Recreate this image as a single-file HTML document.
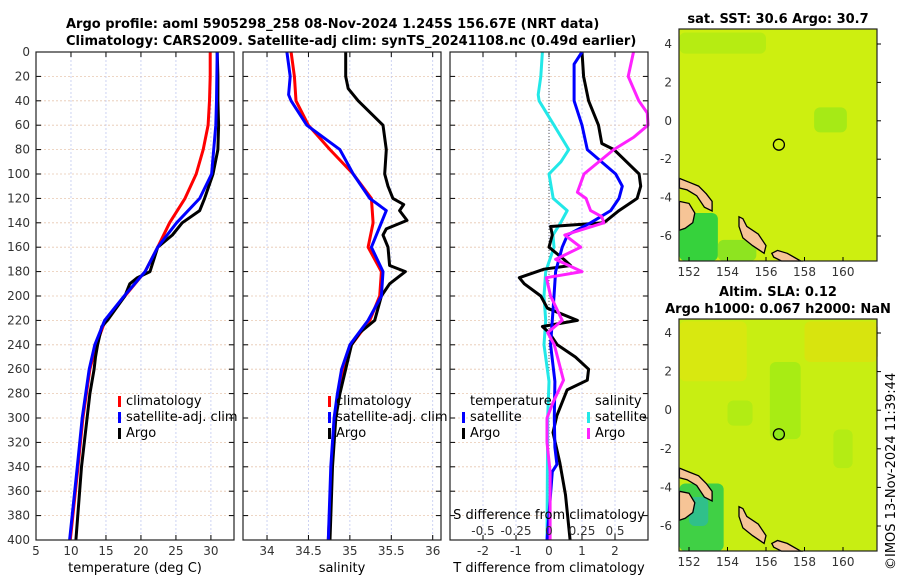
<!DOCTYPE html>
<html><head><meta charset="utf-8">
<style>
body{margin:0;background:#fff;}
svg{display:block;font-family:"DejaVu Sans","Liberation Sans",sans-serif;}
.tk{font-size:12px;fill:#333;}
.ttl{font-size:13px;font-weight:bold;fill:#000;}
.lg{font-size:13px;fill:#000;}
</style></head>
<body>
<svg id="chart" width="900" height="580" viewBox="0 0 900 580">
<text class="ttl" x="66" y="28">Argo profile: aoml 5905298_258 08-Nov-2024 1.245S 156.67E (NRT data)</text>
<text class="ttl" x="66" y="45">Climatology: CARS2009. Satellite-adj clim: synTS_20241108.nc (0.49d earlier)</text>
<g id="panels"></g>
</svg>
<script>
// ---- data ----
const tClimDepth=[0,20,40,60,80,100,120,140,160,180,200,220,240,260,280,300,340,400];
const tClimVal=[29.9,29.9,29.8,29.6,28.9,27.9,26.3,24.1,22.4,20.6,17.7,14.9,13.6,12.7,12.2,11.7,11.0,9.9];
const tSatDepth=[0,40,60,80,100,120,140,160,180,200,220,240,260,280,300,340,400];
const tSatVal=[30.9,30.8,30.7,30.4,30.1,28.4,25.1,22.4,20.6,17.6,14.8,13.4,12.6,12.1,11.6,10.9,9.8];
const tArgoDepth=[0,20,40,60,80,100,120,130,140,150,160,180,185,190,200,220,225,240,250,260,280,300,340,400];
const tArgoVal=[30.9,31.0,31.0,31.1,31.0,30.3,29.1,28.4,25.9,24.5,22.4,21.3,19.5,18.4,17.7,15.2,14.4,13.8,13.5,13.3,12.7,12.3,11.5,10.7];
const sClimDepth=[0,20,40,60,80,100,120,140,160,180,200,220,240,260,280,300,340,400];
const sClimVal=[34.29,34.33,34.35,34.50,34.76,35.04,35.26,35.28,35.22,35.38,35.36,35.24,35.02,34.92,34.86,34.82,34.78,34.74];
const sSatDepth=[0,20,35,40,60,80,90,100,120,130,160,180,200,220,240,260,280,300,340,400];
const sSatVal=[34.24,34.28,34.26,34.29,34.48,34.88,34.96,35.04,35.24,35.44,35.26,35.40,35.38,35.22,35.00,34.90,34.85,34.81,34.77,34.74];
const sArgoDepth=[0,20,30,40,60,80,100,110,120,125,130,138,145,150,160,175,180,190,200,220,230,240,260,280,300,340,400];
const sArgoVal=[34.95,34.95,34.98,35.10,35.40,35.44,35.42,35.46,35.52,35.65,35.60,35.69,35.44,35.40,35.46,35.48,35.67,35.48,35.38,35.30,35.12,35.02,34.95,34.88,34.83,34.79,34.76];
const dTSatDepth=[0,10,40,60,80,100,110,120,130,140,150,160,180,200,240,270,300,324,338,344,400];
const dTSatVal=[1.0,0.76,0.76,1.0,1.16,2.02,2.22,2.12,1.87,1.26,0.56,0.4,0.2,0.15,0.05,0.18,0.16,0.18,0.24,0.1,-0.06];
const dTArgoDepth=[0,20,40,60,75,80,100,110,120,130,140,143,150,160,170,175,178,185,190,200,210,220,225,230,240,250,260,269,277,298,312,337,363,400];
const dTArgoVal=[1.0,1.05,1.2,1.5,1.6,1.97,2.73,2.78,2.67,2.12,1.66,0.05,0.1,0.0,0.45,0.65,-0.15,-0.9,-0.75,-0.25,-0.05,0.86,-0.2,0.0,0.25,0.8,1.2,1.16,0.55,0.24,0.12,0.33,0.5,0.64];
const dSSatDepth=[0,20,35,40,60,80,90,100,120,130,140,150,160,180,200,220,240,270,300,400];
const dSSatVal=[-0.05,-0.062,-0.082,-0.075,0.038,0.15,0.09,0.0,0.032,0.138,0.088,0.03,0.038,-0.025,-0.038,-0.025,-0.038,0.0,-0.01,-0.015];
const dSArgoDepth=[0,20,40,50,60,70,80,100,115,120,130,135,140,150,160,170,180,185,200,220,230,240,269,287,300,320,344,370,400];
const dSArgoVal=[0.64,0.6,0.68,0.745,0.75,0.64,0.49,0.265,0.215,0.28,0.315,0.4,0.415,0.12,0.24,0.05,0.25,-0.02,0.012,0.1,-0.01,0.04,0.11,0.032,-0.015,-0.015,0.008,0.008,0.008];
const tTicks=[5,10,15,20,25,30];
const sTicks=[34,34.5,35,35.5,36];
const sTickLabels=["34","34.5","35","35.5","36"];
const dTTicks=[-2,-1,0,1,2];
const dSTicks=[-0.5,-0.25,0,0.25,0.5];
const dSTickLabels=["-0.5","-0.25","0","0.25","0.5"];
const depthTicks=[0,20,40,60,80,100,120,140,160,180,200,220,240,260,280,300,320,340,360,380,400];

const NS='http://www.w3.org/2000/svg';
const root=document.getElementById('panels');
function mk(tag,attrs,parent){const e=document.createElementNS(NS,tag);for(const k in attrs)e.setAttribute(k,attrs[k]);(parent||root).appendChild(e);return e;}
const yTop=52,yBot=540;
function yScale(d){return yTop+(d/400)*(yBot-yTop);}

function panel(x0,x1,dmin,dmax,ticks,labels,name,xlabel,showDepth){
  const g=mk('g',{});
  
  
  const xs=v=>x0+(v-dmin)/(dmax-dmin)*(x1-x0);
  depthTicks.forEach(d=>{const y=yScale(d);
    if(d>0&&d<400){const l=mk('line',{x1:x0,x2:x1,y1:y,y2:y,stroke:'#e8c8b0','stroke-width':0.8,'stroke-dasharray':'2,2'},g);
      }
    const t1=mk('line',{x1:x0,x2:x0+5,y1:y,y2:y,stroke:'#000'},g);
    
    const t2=mk('line',{x1:x1-5,x2:x1,y1:y,y2:y,stroke:'#000'},g);
    
    if(showDepth){const t=mk('text',{x:x0-6,y:y+4,'text-anchor':'end',class:'tk'},g);t.textContent=d;
      }
  });
  ticks.forEach((v,i)=>{const x=xs(v);
    const l=mk('line',{x1:x,x2:x,y1:yTop,y2:yBot,stroke:'#c0c8f0',"stroke-width":0.8,'stroke-dasharray':'2,2'},g);
    
    const a=mk('line',{x1:x,x2:x,y1:yTop,y2:yTop+5,stroke:'#000'},g);
    
    const b=mk('line',{x1:x,x2:x,y1:yBot-5,y2:yBot,stroke:'#000'},g);
    
    if(labels){const t=mk('text',{x:x,y:yBot+15,'text-anchor':'middle',class:'tk'},g);t.textContent=labels[i];
      }
  });
  if(xlabel){const t=mk('text',{x:(x0+x1)/2,y:yBot+32,'text-anchor':'middle',class:'lg'},g);t.textContent=xlabel;
    }
  return {g,xs};
}
function series(p,depths,vals,color,name,w){
  const pts=depths.map((d,i)=>p.xs(vals[i]).toFixed(1)+','+yScale(d).toFixed(1)).join(' ');
  const l=mk('polyline',{points:pts,fill:'none',stroke:color,'stroke-width':w||3,'stroke-linejoin':'round'},p.g);
  
}
function frame(p,x0,x1){const r=mk('rect',{x:x0,y:yTop,width:x1-x0,height:yBot-yTop,fill:'none',stroke:'#222','stroke-width':1.2},p.g);
  }
function legend(g,x,y,items){items.forEach((it,i)=>{
  const r=mk('rect',{x:x,y:y+i*16-9,width:3,height:11,fill:it[1]},g);
  
  const t=mk('text',{x:x+8,y:y+i*16,class:'lg'},g);t.textContent=it[0];
  });}

// Panel 1 temperature
const p1=panel(36,234,5,33.3,tTicks,tTicks.map(String),'temperature-panel','temperature (deg C)',true);
series(p1,tClimDepth,tClimVal,'#ff0000','temperature-climatology-line');
series(p1,tArgoDepth,tArgoVal,'#000','temperature-argo-line');
series(p1,tSatDepth,tSatVal,'#0000ff','temperature-satellite-line');
frame(p1,36,234);
legend(p1.g,118,405,[['climatology','#ff0000'],['satellite-adj. clim','#0000ff'],['Argo','#000']]);

// Panel 2 salinity
const p2=panel(243,441,33.71,36.1,sTicks,sTickLabels,'salinity-panel','salinity',false);
series(p2,sClimDepth,sClimVal,'#ff0000','salinity-climatology-line');
series(p2,sArgoDepth,sArgoVal,'#000','salinity-argo-line');
series(p2,sSatDepth,sSatVal,'#0000ff','salinity-satellite-line');
frame(p2,243,441);
legend(p2.g,328,405,[['climatology','#ff0000'],['satellite-adj. clim','#0000ff'],['Argo','#000']]);

// Panel 3 differences
const p3=panel(450,648,-3,3,dTTicks,dTTicks.map(String),'difference-panel','T difference from climatology',false);
const zl=mk('line',{x1:p3.xs(0),x2:p3.xs(0),y1:yTop,y2:yBot,stroke:'#555','stroke-dasharray':'1,2'},p3.g);

const ps={g:p3.g,xs:v=>p3.xs(v*4)};
series(ps,dSSatDepth,dSSatVal,'#22e8e8','salinity-satellite-diff-line');
series(p3,dTArgoDepth,dTArgoVal,'#000','temperature-argo-diff-line');
series(p3,dTSatDepth,dTSatVal,'#0000ff','temperature-satellite-diff-line');
series(ps,dSArgoDepth,dSArgoVal,'#ff22ff','salinity-argo-diff-line');
frame(p3,450,648);
{const t=mk('text',{x:470,y:405,class:'lg'},p3.g);t.textContent='temperature';
 const u=mk('text',{x:595,y:405,class:'lg'},p3.g);u.textContent='salinity';}
legend(p3.g,462,421,[['satellite','#0000ff'],['Argo','#000']]);
legend(p3.g,587,421,[['satellite','#22e8e8'],['Argo','#ff22ff']]);
{const t=mk('text',{x:549,y:519,'text-anchor':'middle',class:'lg'},p3.g);t.textContent='S difference from climatology';
 
 dSTicks.forEach((v,i)=>{const q=mk('text',{x:ps.xs(v),y:535,'text-anchor':'middle',class:'tk'},p3.g);q.textContent=dSTickLabels[i];
 });}

// ---- maps ----
const lonTicks=[152,154,156,158,160];
const latTicks=[4,2,0,-2,-4,-6];
const argoLon=156.67, argoLat=-1.245;
const landA=[[151.5,-3.0],[152.0,-3.2],[152.5,-3.4],[152.9,-3.8],[153.2,-4.2],[153.2,-4.7],[152.8,-4.5],[152.4,-3.9],[151.9,-3.6],[151.5,-3.5]];
const landB=[[151.5,-4.2],[152.0,-4.3],[152.3,-4.8],[152.2,-5.3],[151.8,-5.6],[151.5,-5.7]];
const landC=[[154.6,-5.0],[154.8,-5.1],[155.0,-5.5],[155.6,-5.9],[156.0,-6.5],[155.9,-6.9],[155.3,-6.5],[154.8,-6.1],[154.6,-5.5]];
const landD=[[156.3,-6.9],[156.6,-6.75],[157.1,-6.9],[157.8,-7.3],[156.8,-7.3],[156.4,-7.1]];
function mapPanel(y0,y1,latY4,latY6,title,name,variant){
  const x0=679,x1=877;
  const g=mk('g',{});
  const xl=lon=>689+(lon-152)*(843-689)/8;
  const yl=lat=>latY4+(4-lat)*(latY6-latY4)/10;
  const bg=mk('rect',{x:x0,y:y0,width:x1-x0,height:y1-y0,fill:variant?'#c8ee12':'#cdef10'},g);
  
  const blobs=variant?
    [[xl(151.5),yl(4.6),xl(155),yl(1.5),'#d8e810'],[xl(158),yl(4.6),xl(161.8),yl(2.5),'#d8e40e'],[xl(156.2),yl(2.5),xl(157.8),yl(-1.5),'#a8ec14'],[xl(154),yl(0.5),xl(155.3),yl(-0.8),'#b2ec14'],[xl(159.5),yl(-1),xl(160.5),yl(-3),'#b4ec14'],[xl(151.5),yl(-3.8),xl(153.8),yl(-7.3),'#40d045'],[xl(152),yl(-4.5),xl(153),yl(-6),'#30c08a']]:
    [[xl(151.5),yl(4.6),xl(156),yl(3.5),'#b6ec12'],[xl(158.5),yl(0.7),xl(160.2),yl(-0.6),'#a6ea16'],[xl(151.5),yl(-4.8),xl(153.5),yl(-7.3),'#36d23c'],[xl(153.5),yl(-6.2),xl(155.5),yl(-7.3),'#8ee420']];
  blobs.forEach(b=>{const r=mk('rect',{x:b[0],y:b[1],width:b[2]-b[0],height:b[3]-b[1],fill:b[4],rx:6},g);
    });
  [landA,landB,landC,landD].forEach(L=>{const p=mk('polygon',{points:L.map(q=>xl(q[0]).toFixed(1)+','+yl(q[1]).toFixed(1)).join(' '),fill:'#f6c496',stroke:'#000','stroke-width':1.3},g);
    });
  const c=mk('circle',{cx:xl(argoLon),cy:yl(argoLat),r:5.5,fill:variant?'#8ee81a':'none',stroke:'#000','stroke-width':1.3},g);
  
  const fr=mk('rect',{x:x0,y:y0,width:x1-x0,height:y1-y0,fill:'none',stroke:'#222','stroke-width':1.2},g);
  
  lonTicks.forEach(v=>{const t=mk('text',{x:xl(v),y:y1+15,'text-anchor':'middle',class:'tk'},g);t.textContent=v;
    
    const k=mk('line',{x1:xl(v),x2:xl(v),y1:y1-4,y2:y1,stroke:'#000'},g);});
  latTicks.forEach(v=>{const t=mk('text',{x:x0-7,y:yl(v)+4,'text-anchor':'end',class:'tk'},g);t.textContent=v;
    
    const k=mk('line',{x1:x1,x2:x1+4,y1:yl(v),y2:yl(v),stroke:'#000'},g);});
  title.forEach((s,i)=>{const t=mk('text',{x:(x0+x1)/2,y:y0-(title.length-1-i)*17-6,'text-anchor':'middle',class:'ttl'},g);t.textContent=s;
    });
}
mapPanel(29,261,44,236,['sat. SST: 30.6 Argo: 30.7'],'sst-map',false);
mapPanel(319,551,333,526,['Altim. SLA: 0.12','Argo h1000: 0.067 h2000: NaN'],'sla-map',true);
{const t=mk('text',{x:0,y:0,class:'lg',transform:'translate(895,570) rotate(-90)'});t.textContent='©IMOS 13-Nov-2024 11:39:44';
 }
</script>
</body></html>
